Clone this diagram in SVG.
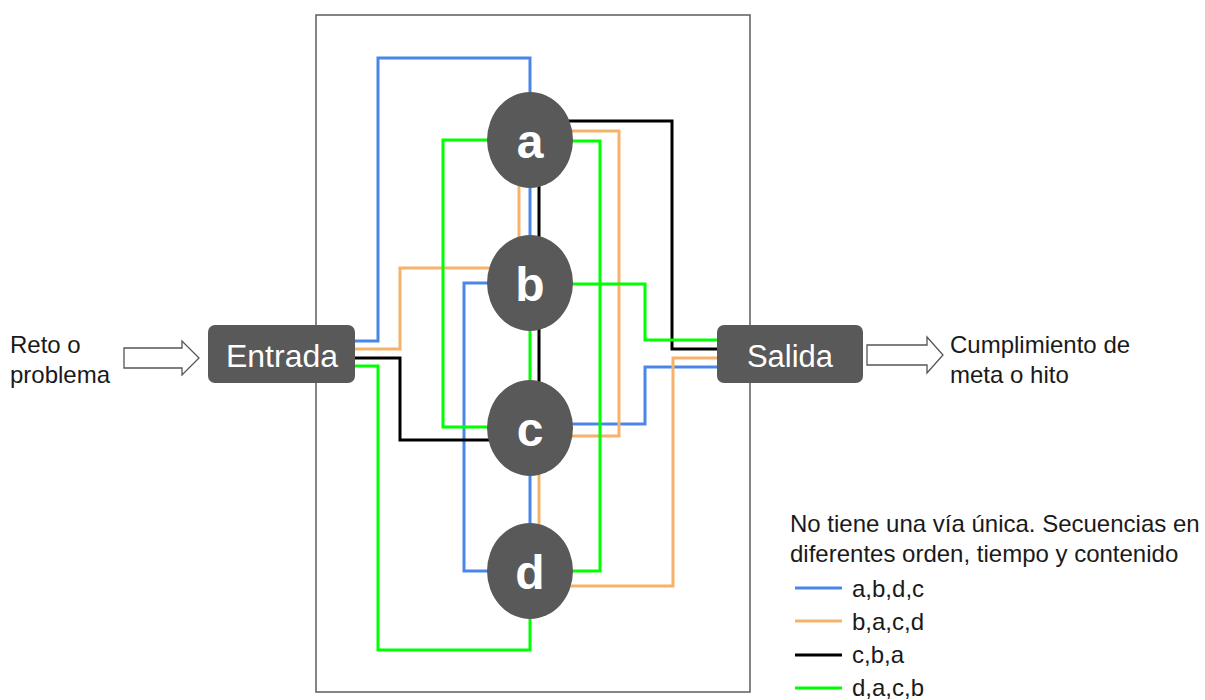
<svg xmlns="http://www.w3.org/2000/svg" width="1205" height="700" viewBox="0 0 1205 700">
<style>
.t{font-family:"Liberation Sans",Arial,sans-serif;fill:#1a1a1a;font-size:24px}
.box{fill:#595959}
.lbl{font-family:"Liberation Sans",Arial,sans-serif;fill:#ffffff;text-anchor:middle}
.ltr{font-size:48px;font-weight:bold}
.w{fill:none;stroke-width:3;stroke-linejoin:miter;stroke-linecap:butt}
.blue{stroke:#4a86e8}
.orange{stroke:#f6b26b}
.black{stroke:#000000}
.green{stroke:#00ff00}
.arr{fill:#ffffff;stroke:#555555;stroke-width:1.3}
</style>
<rect x="0" y="0" width="1205" height="700" fill="#ffffff"/>
<rect id="frame" x="316" y="15" width="434" height="677" fill="none" stroke="#666666" stroke-width="1.6"/>

<g id="connectors">
  <!-- blue: a,b,d,c -->
  <path class="w blue" d="M355,341 H378 V58 H530 V140"/>
  <path class="w blue" d="M530,140 V283"/>
  <path class="w blue" d="M530,283 H464 V571 H530"/>
  <path class="w blue" d="M530,571 V428"/>
  <path class="w blue" d="M530,424 H645 V367 H717"/>
  <!-- orange: b,a,c,d -->
  <path class="w orange" d="M355,349 H400 V268 H530"/>
  <path class="w orange" d="M519,283 V140"/>
  <path class="w orange" d="M530,131 H619 V436 H530"/>
  <path class="w orange" d="M539,428 V571"/>
  <path class="w orange" d="M530,586 H673 V358 H717"/>
  <!-- black: c,b,a -->
  <path class="w black" d="M355,358 H400 V440 H530"/>
  <path class="w black" d="M539,428 V140"/>
  <path class="w black" d="M530,121 H672 V349 H717"/>
  <!-- green: d,a,c,b -->
  <path class="w green" d="M355,366 H378 V650 H530 V571"/>
  <path class="w green" d="M530,571 H600 V141 H530"/>
  <path class="w green" d="M530,140 H443 V427 H530"/>
  <path class="w green" d="M530,428 V283"/>
  <path class="w green" d="M530,284 H645 V340 H717"/>
</g>

<g id="node-a">
  <ellipse class="box" cx="530" cy="140" rx="43" ry="48"/>
  <text class="lbl ltr" x="530" y="158">a</text>
</g>
<g id="node-b">
  <ellipse class="box" cx="530" cy="283" rx="43" ry="48"/>
  <text class="lbl ltr" x="530" y="301">b</text>
</g>
<g id="node-c">
  <ellipse class="box" cx="530" cy="428" rx="43" ry="48"/>
  <text class="lbl ltr" x="530" y="446">c</text>
</g>
<g id="node-d">
  <ellipse class="box" cx="530" cy="571" rx="43" ry="48"/>
  <text class="lbl ltr" x="530" y="589">d</text>
</g>

<g id="node-entrada">
  <rect class="box" x="208" y="325" width="147" height="58" rx="7"/>
  <text class="lbl" x="282" y="367" font-size="32">Entrada</text>
</g>
<g id="node-salida">
  <rect class="box" x="717" y="325" width="146" height="58" rx="7"/>
  <text class="lbl" x="790" y="367" font-size="31">Salida</text>
</g>

<g id="input">
  <polygon class="arr" points="124,348 182,348 182,341 199,358 182,375 182,368 124,368"/>
  <text class="t" x="10" y="353">Reto o</text>
  <text class="t" x="10" y="383">problema</text>
</g>
<g id="output">
  <polygon class="arr" points="867,345 927,345 927,337 943,355 927,373 927,365 867,365"/>
  <text class="t" x="950" y="353">Cumplimiento de</text>
  <text class="t" x="950" y="383">meta o hito</text>
</g>

<g id="legend">
  <text class="t" x="790" y="532">No tiene una vía única. Secuencias en</text>
  <text class="t" x="790" y="562">diferentes orden, tiempo y contenido</text>
  <line class="w blue" x1="795" y1="588" x2="842" y2="588"/>
  <text class="t" x="852" y="597">a,b,d,c</text>
  <line class="w orange" x1="795" y1="621" x2="842" y2="621"/>
  <text class="t" x="852" y="630">b,a,c,d</text>
  <line class="w black" x1="795" y1="655" x2="842" y2="655" stroke-width="3.5"/>
  <text class="t" x="852" y="663">c,b,a</text>
  <line class="w green" x1="795" y1="688" x2="842" y2="688"/>
  <text class="t" x="852" y="696">d,a,c,b</text>
</g>
</svg>
